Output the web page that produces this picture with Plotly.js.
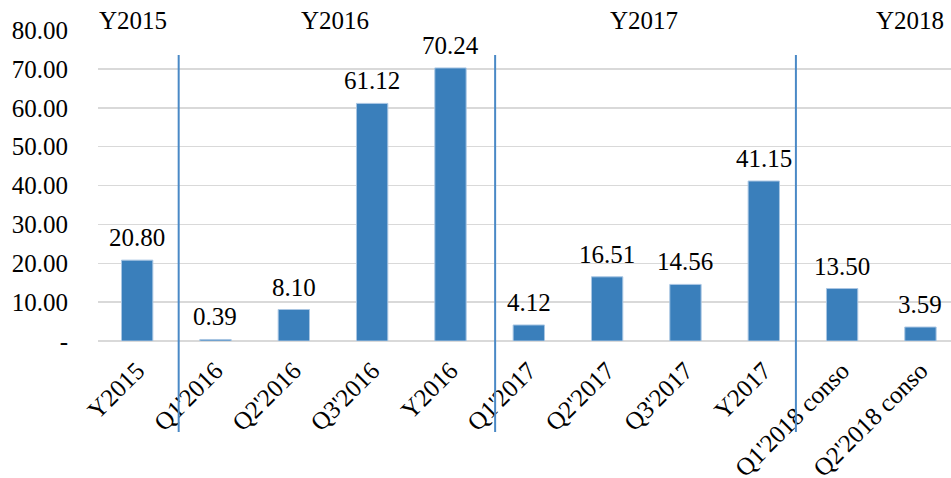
<!DOCTYPE html>
<html>
<head>
<meta charset="utf-8">
<script src="https://cdn.plot.ly/plotly-3.0.1.min.js"></script>
<style>html,body{margin:0;padding:0;background:#fff;}#chart{width:951px;height:478px;}</style>
</head>
<body>
<div id="chart"></div>
<script>
var categories = ["Y2015","Q1'2016","Q2'2016","Q3'2016","Y2016","Q1'2017","Q2'2017","Q3'2017","Y2017","Q1'2018 conso","Q2'2018 conso"];
var values = [20.80, 0.39, 8.10, 61.12, 70.24, 4.12, 16.51, 14.56, 41.15, 13.50, 3.59];
var yTickVals = [0, 10, 20, 30, 40, 50, 60, 70, 80];
var yTickText = ["-", "10.00", "20.00", "30.00", "40.00", "50.00", "60.00", "70.00", "80.00"];
var yearLabels = ["Y2015", "Y2016", "Y2017", "Y2018"];

var FONT = "Liberation Serif, Times New Roman, serif";
var yearX = [-0.05, 2.53, 6.47, 9.87];
var sepX = [0.53, 4.57, 8.41];
var xIdx = categories.map(function(c, i){ return i; });

var trace = {
  type: "bar",
  x: xIdx,
  y: values,
  width: 0.4,
  marker: {color: "#3a7fbb", line: {color: "#a9c6e3", width: 1}},
  cliponaxis: false,
  hoverinfo: "none"
};

var annotations = yearLabels.map(function(t, i){
  return {text: t, x: yearX[i], xref: "x", y: 1.032, yref: "paper",
          showarrow: false, xanchor: "center", yanchor: "middle",
          font: {family: FONT, size: 25, color: "#000"}};
});
values.forEach(function(v, i){
  annotations.push({text: v.toFixed(2), x: xIdx[i], xref: "x", y: v, yref: "y",
    showarrow: false, xanchor: "center", yanchor: "bottom", yshift: 7,
    font: {family: FONT, size: 25, color: "#000"}});
});
var shapes = sepX.map(function(x){
  return {type: "line", xref: "x", yref: "paper", x0: x, x1: x, y0: 0.92, y1: -0.293,
          line: {color: "#4a89c6", width: 2}};
});

var layout = {
  width: 951, height: 478,
  margin: {l: 98, r: 0, t: 30, b: 137},
  paper_bgcolor: "#fff", plot_bgcolor: "#fff",
  showlegend: false,
  bargap: 0.6,
  xaxis: {
    range: [-0.5, 10.39],
    tickvals: xIdx,
    ticktext: categories,
    tickangle: -45,
    tickfont: {family: FONT, size: 25, color: "#000"},
    showgrid: false, zeroline: false, showline: false,
    ticks: "outside", ticklen: 4, tickcolor: "rgba(0,0,0,0)"
  },
  yaxis: {
    range: [0, 80],
    tickvals: yTickVals,
    ticktext: yTickText,
    tickfont: {family: FONT, size: 25, color: "#000"},
    showgrid: true, gridcolor: "#d9d9d9", gridwidth: 1.5,
    zeroline: true, zerolinecolor: "#d9d9d9", zerolinewidth: 1.5,
    showline: false,
    ticks: "outside", ticklen: 24, tickcolor: "rgba(0,0,0,0)"
  },
  annotations: annotations,
  shapes: shapes
};

Plotly.newPlot("chart", [trace], layout, {staticPlot: true, displayModeBar: false});
</script>
</body>
</html>
